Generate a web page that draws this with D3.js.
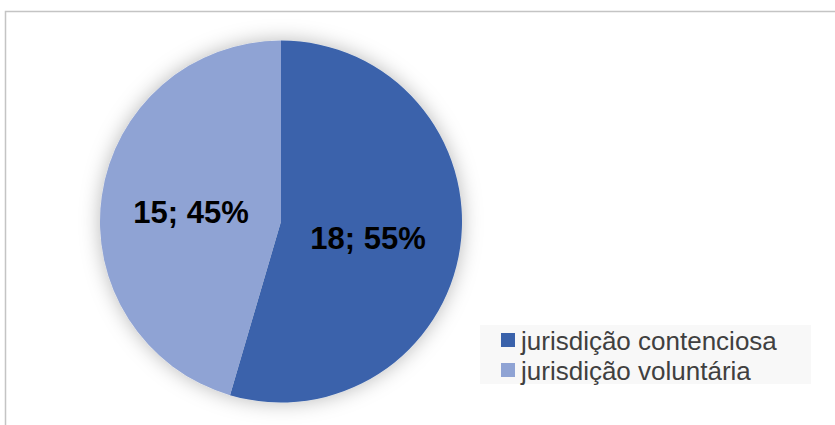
<!DOCTYPE html>
<html>
<head>
<meta charset="utf-8">
<script src="https://cdn.jsdelivr.net/npm/d3@7"></script>
<style>
  html, body { margin: 0; padding: 0; background: #fff; }
  svg { display: block; }
</style>
</head>
<body>
<svg id="chart" width="835" height="425"></svg>
<script>
const categories = ["jurisdição contenciosa", "jurisdição voluntária"];
const values = [18, 15];
const colors = ["#3A62AB", "#8FA3D4"];

const width = 835, height = 425;
const cx = 281, cy = 221.5, radius = 181;

const svg = d3.select("#chart");

// chart frame (runs off the right and bottom edges)
svg.append("rect")
  .attr("x", 5.5).attr("y", 11.5)
  .attr("width", 840).attr("height", 430)
  .attr("fill", "#fff")
  .attr("stroke", "#c4c4c4")
  .attr("stroke-width", 1.5);

const defs = svg.append("defs");
const glow = defs.append("filter").attr("id", "glow")
  .attr("x", "-20%").attr("y", "-20%").attr("width", "140%").attr("height", "140%");
glow.append("feDropShadow")
  .attr("dx", 0).attr("dy", 0)
  .attr("stdDeviation", 10)
  .attr("flood-color", "#000")
  .attr("flood-opacity", 0.28);

const total = d3.sum(values);
const pie = d3.pie().sort(null).value(d => d)(values);
const arc = d3.arc().innerRadius(0).outerRadius(radius);

const g = svg.append("g").attr("transform", `translate(${cx},${cy})`);

g.append("g").attr("filter", "url(#glow)")
  .selectAll("path")
  .data(pie)
  .join("path")
  .attr("d", arc)
  .attr("fill", (d, i) => colors[i]);

// data labels
const labelPos = [[87, 17], [-90, -9]];
g.selectAll("text.lbl")
  .data(pie)
  .join("text")
  .attr("class", "lbl")
  .attr("x", (d, i) => labelPos[i][0])
  .attr("y", (d, i) => labelPos[i][1])
  .attr("text-anchor", "middle")
  .attr("dominant-baseline", "central")
  .attr("font-family", "'Liberation Sans', Arial, sans-serif")
  .attr("font-weight", "bold")
  .attr("font-size", 31)
  .attr("fill", "#000")
  .text(d => `${d.data}; ${Math.round(d.data / total * 100)}%`);

// legend
const legend = svg.append("g").attr("transform", "translate(480,325)");
legend.append("rect")
  .attr("width", 331).attr("height", 59)
  .attr("fill", "#f8f8f8");

const row = legend.selectAll("g.row")
  .data(categories)
  .join("g")
  .attr("class", "row")
  .attr("transform", (d, i) => `translate(21,${15 + i * 30})`);

row.append("rect")
  .attr("x", 0).attr("y", -7)
  .attr("width", 14).attr("height", 14)
  .attr("fill", (d, i) => colors[i]);

row.append("text")
  .attr("x", 20).attr("y", 1)
  .attr("dominant-baseline", "central")
  .attr("font-family", "'Liberation Sans', Arial, sans-serif")
  .attr("font-size", 26)
  .attr("fill", "#404040")
  .text(d => d);
</script>
</body>
</html>
